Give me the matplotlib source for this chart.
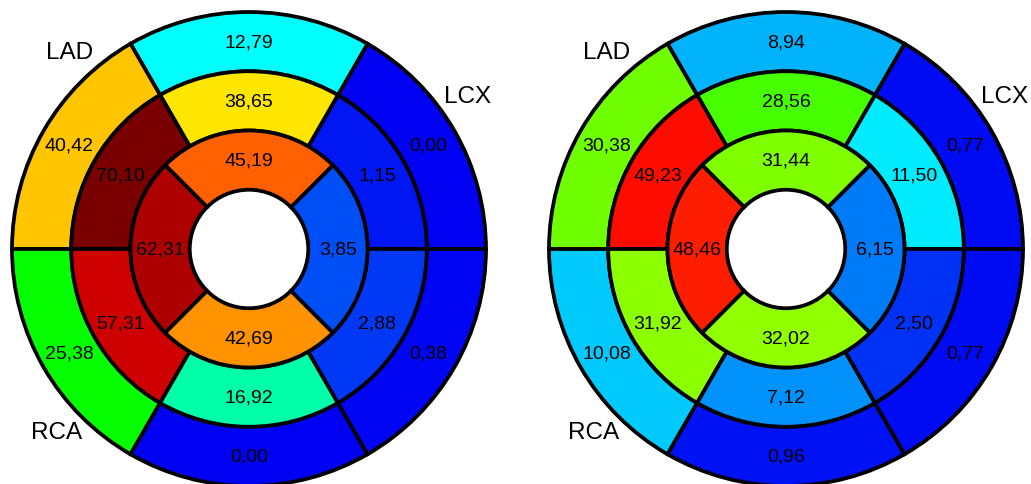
import numpy as np
import matplotlib
matplotlib.use('Agg')
import matplotlib.pyplot as plt
from matplotlib.colors import LinearSegmentedColormap, Normalize

plt.rcParams['font.family'] = ['Liberation Sans', 'DejaVu Sans']

# segment values, counter-clockwise from 3 o'clock
# outer and middle rings: 6 segments of 60 deg, inner ring: 4 segments of 90 deg
left_outer = [0.00, 12.79, 40.42, 25.38, 0.00, 0.38]
left_middle = [1.15, 38.65, 70.10, 57.31, 16.92, 2.88]
left_inner = [3.85, 45.19, 62.31, 42.69]

right_outer = [0.77, 8.94, 30.38, 10.08, 0.96, 0.77]
right_middle = [11.50, 28.56, 49.23, 31.92, 7.12, 2.50]
right_inner = [6.15, 31.44, 48.46, 32.02]

territories = ['LAD', 'LCX', 'RCA']

# colour scale: blue -> cyan -> green -> yellow -> red -> dark red
vmin, vmax = 0.0, 70.0
nodes = [0.0, 12.5, 25.0, 37.5, 50.0, 70.0]
node_colors = [(0, 0, 0.95), (0, 1, 1), (0, 1, 0), (1, 1, 0), (1, 0, 0), (0.48, 0, 0)]
cmap = LinearSegmentedColormap.from_list(
    'bull', list(zip([(n - vmin) / (vmax - vmin) for n in nodes], node_colors)))
norm = Normalize(vmin, vmax)

W, H = 1031, 485
R_PX = 237  # outer radius in pixels
rings = [(0.75, 1.0, 0.0), (0.5, 0.75, 0.0), (0.25, 0.5, -45.0)]  # inner r, outer r, start angle
label_pos = [(132.3, 1.125), (35.1, 1.125), (223.6, 1.12)]


def fmt(v):
    return '{:.2f}'.format(v).replace('.', ',')


def bullseye(ax, outer, middle, inner):
    for (r0, r1, start), vals in zip(rings, [outer, middle, inner]):
        n = len(vals)
        width = 2 * np.pi / n
        theta = np.deg2rad(start) + width / 2 + width * np.arange(n)
        ax.bar(theta, r1 - r0, width=width, bottom=r0,
               color=[cmap(norm(v)) for v in vals],
               edgecolor='black', linewidth=2.7, clip_on=False)
        for t, v in zip(theta, vals):
            ax.text(t, (r0 + r1) / 2, fmt(v), ha='center', va='center',
                    fontsize=14, color='black', clip_on=False)
    for name, (ang, r) in zip(territories, label_pos):
        ax.text(np.deg2rad(ang), r, name, ha='center', va='center',
                fontsize=17.5, color='black', clip_on=False)
    ax.set_ylim(0, 1)
    ax.set_axis_off()


fig = plt.figure(figsize=(W / 100, H / 100), dpi=100)
for cx, data in [(249, (left_outer, left_middle, left_inner)),
                 (786, (right_outer, right_middle, right_inner))]:
    cy = 250
    ax = fig.add_axes([(cx - R_PX) / W, (H - cy - R_PX) / H,
                       2 * R_PX / W, 2 * R_PX / H], projection='polar')
    bullseye(ax, *data)

fig.savefig('out.png', dpi=100, facecolor='white')
